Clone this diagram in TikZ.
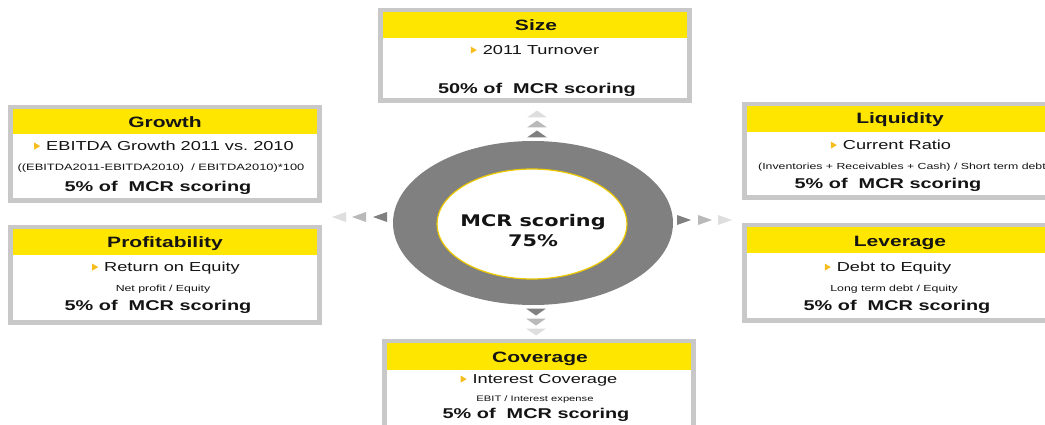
\documentclass[tikz,border=0pt]{standalone}
\usepackage{fontspec}
\setmainfont{Liberation Sans}[FakeStretch=1.4]
\newfontfamily\hubfont{DejaVu Sans}[FakeStretch=1.3]
\usetikzlibrary{shapes.geometric,calc}

\definecolor{eyyellow}{RGB}{255,230,0}
\definecolor{framegray}{RGB}{200,200,200}
\definecolor{ringgray}{RGB}{128,128,128}
\definecolor{hubline}{RGB}{235,200,0}
\definecolor{bulletcol}{RGB}{245,190,30}
\definecolor{inkblack}{RGB}{20,20,20}
\definecolor{arrdark}{RGB}{128,128,128}
\definecolor{arrmid}{RGB}{185,185,185}
\definecolor{arrlight}{RGB}{222,222,222}

% framed score card: #1 name, #2 left, #3 top, #4 bottom, #5 bottom of the yellow header
\newcommand\scorebox[5]{%
  \node[frame, minimum height={#4-#3}] (#1) at (#2,#3) {};
  \fill[white] ({#2+5},{#3+4}) rectangle ({#2+309},{#4-5});
  \fill[eyyellow] ({#2+5},{#3+4}) rectangle ({#2+309},#5);
}

\tikzset{
  frame/.style={fill=framegray, anchor=north west, minimum width=314, inner sep=0, outer sep=0},
  txt/.style={anchor=base, inner sep=0, outer sep=0, text=inkblack},
  ttl/.style={txt, font=\bfseries\fontsize{15}{17}\selectfont},
  item/.style={txt, font=\fontsize{13}{15}\selectfont},
  note/.style={txt, font=\fontsize{8.8}{10}\selectfont},
  pct/.style={txt, font=\bfseries\fontsize{14.2}{16}\selectfont},
  hubtxt/.style={txt, font=\hubfont\bfseries\fontsize{16}{18}\selectfont},
  bullet/.pic={\fill[bulletcol] (-3,-3.5) -- (3,0) -- (-3,3.5) -- cycle;},
  uptri/.pic={\fill[#1] (-10,3.5) -- (10,3.5) -- (0,-3.5) -- cycle;},
  downtri/.pic={\fill[#1] (-10,-3.5) -- (10,-3.5) -- (0,3.5) -- cycle;},
  lefttri/.pic={\fill[#1] (7,-5) -- (7,5) -- (-7,0) -- cycle;},
  righttri/.pic={\fill[#1] (-7,-5) -- (-7,5) -- (7,0) -- cycle;},
}

\begin{document}
\begin{tikzpicture}[x=1pt,y=-1pt]
\useasboundingbox (0,0) rectangle (1045,425);
\fill[white] (0,0) rectangle (1045,425);

% ---- score cards ----
\scorebox{sizebox}{378}{8}{103}{38}
\scorebox{growthbox}{8}{105}{203}{134}
\scorebox{profitbox}{8}{225}{325}{255}
\scorebox{liqbox}{742}{102}{200}{132}
\scorebox{levbox}{742}{223}{323}{253}
\scorebox{covbox}{382}{339}{436}{370}

% Size
\node[ttl] (sizettl) at (536,30.4) {Size};
\node[item] (sizeitem) at (541,54.7) {2011 Turnover};
\node[pct] (sizepct) at (537,94) {50\% of\ \ MCR scoring};

% Growth
\node[ttl] (growthttl) at (165,127.4) {Growth};
\node[item] (growthitem) at (170,150.7) {EBITDA Growth 2011 vs.\ 2010};
\node[note, font=\fontsize{9.2}{10}\selectfont] (growthnote) at (161,170.2) {((EBITDA2011-EBITDA2010)\ \ / EBITDA2010)*100};
\node[pct] (growthpct) at (158,192) {5\% of\ \ MCR scoring};

% Profitability
\node[ttl] (profitttl) at (165,247.4) {Profitability};
\node[item] (profititem) at (172,271.7) {Return on Equity};
\node[note] (profitnote) at (163,291.2) {Net profit / Equity};
\node[pct] (profitpct) at (158,310) {5\% of\ \ MCR scoring};

% Liquidity
\node[ttl] (liqttl) at (900,123.4) {Liquidity};
\node[item] (liqitem) at (897,149.7) {Current Ratio};
\node[note] (liqnote) at (902,169.2) {(Inventories + Receivables + Cash) / Short term debt};
\node[pct] (liqpct) at (888,189) {5\% of\ \ MCR scoring};

% Leverage
\node[ttl] (levttl) at (900,246.4) {Leverage};
\node[item] (levitem) at (894,271.7) {Debt to Equity};
\node[note] (levnote) at (894,291.2) {Long term debt / Equity};
\node[pct] (levpct) at (897,310) {5\% of\ \ MCR scoring};

% Coverage
\node[ttl] (covttl) at (540,362.4) {Coverage};
\node[item] (covitem) at (545,383.7) {Interest Coverage};
\node[note, font=\fontsize{8}{9}\selectfont] (covnote) at (535,401) {EBIT / Interest expense};
\node[pct] (covpct) at (536,418) {5\% of\ \ MCR scoring};

% bullets in front of the measures
\foreach \n in {sizeitem,growthitem,profititem,liqitem,levitem,covitem}
  \pic at ([xshift=-9pt,yshift=4.6pt]\n.base west) {bullet};

% ---- central ring ----
\node[ellipse, fill=ringgray, minimum width=280, minimum height=164, inner sep=0] (ring) at (533,223) {};
\node[ellipse, fill=white, draw=hubline, line width=1.2pt, minimum width=190, minimum height=110, inner sep=0] (hub) at (532,224) {};
\node[hubtxt] (hubname) at (533,226) {MCR scoring};
\node[hubtxt] (hubpct) at (533,246) {75\%};

% ---- fading arrow heads ----
\pic at (537,134) {uptri=arrdark};
\pic at (537,124) {uptri=arrmid};
\pic at (537,114) {uptri=arrlight};

\pic at (536,312) {downtri=arrdark};
\pic at (536,322) {downtri=arrmid};
\pic at (536,332) {downtri=arrlight};

\pic at (380,217) {lefttri=arrdark};
\pic at (359,217) {lefttri=arrmid};
\pic at (339,217) {lefttri=arrlight};

\pic at (684,220) {righttri=arrdark};
\pic at (705,220) {righttri=arrmid};
\pic at (725,220) {righttri=arrlight};
\end{tikzpicture}
\end{document}
